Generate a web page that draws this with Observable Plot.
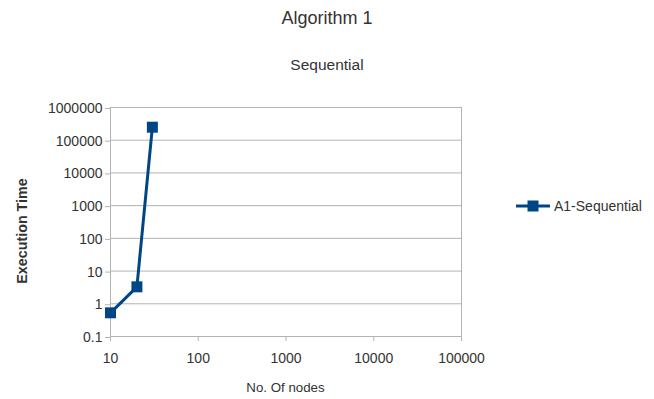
<!DOCTYPE html>
<html>
<head>
<meta charset="utf-8">
<script src="https://cdn.jsdelivr.net/npm/d3@7"></script>
<script src="https://cdn.jsdelivr.net/npm/@observablehq/plot@0.6"></script>
<style>
  html, body { margin: 0; padding: 0; background: #fff; }
  #wrap { position: relative; width: 654px; height: 399px; font-family: "Liberation Sans", Arial, sans-serif; color: #333; }
  .abs { position: absolute; white-space: nowrap; }
</style>
</head>
<body>
<div id="wrap"></div>
<script>
const title = "Algorithm 1";
const subtitle = "Sequential";
const xLabel = "No. Of nodes";
const yLabel = "Execution Time";
const seriesName = "A1-Sequential";
const nodes = [10, 20, 30];
const times = [0.53, 3.3, 250000];
const xTicks = [10, 100, 1000, 10000, 100000];
const yTicks = [0.1, 1, 10, 100, 1000, 10000, 100000, 1000000];
const color = "#004586";

const data = nodes.map((n, i) => ({n, t: times[i]}));

const chart = Plot.plot({
  width: 654,
  height: 399,
  marginTop: 107,
  marginBottom: 63,
  marginLeft: 110,
  marginRight: 193,
  style: {fontFamily: "Liberation Sans, Arial, sans-serif", fontSize: "14px", color: "#333", background: "#fff"},
  x: {type: "log", domain: [10, 100000]},
  y: {type: "log", domain: [0.1, 1000000]},
  marks: [
    Plot.gridY(yTicks, {stroke: "#b3b3b3", strokeOpacity: 1}),
    Plot.ruleX([xTicks[0], xTicks[xTicks.length - 1]], {stroke: "#b3b3b3"}),
    Plot.axisY({ticks: yTicks, tickSize: 5, tickPadding: 3, stroke: "#b3b3b3", tickFormat: d => String(d), label: null, fill: "#333", fontSize: 14, dy: 1}),
    Plot.axisX({ticks: xTicks, tickSize: 5, tickPadding: 12, stroke: "#b3b3b3", tickFormat: d => String(d), label: null, fill: "#333", fontSize: 14}),
    Plot.line(data, {x: "n", y: "t", stroke: color, strokeWidth: 3}),
    Plot.dot(data, {x: "n", y: "t", symbol: "square", r: 6.2, fill: color, stroke: null})
  ]
});

const wrap = document.getElementById("wrap");
wrap.appendChild(chart);
chart.style.position = "absolute";
chart.style.left = "0";
chart.style.top = "0";

function addText(txt, css) {
  const d = document.createElement("div");
  d.className = "abs";
  d.textContent = txt;
  Object.assign(d.style, css);
  wrap.appendChild(d);
  return d;
}
addText(title, {left: "0", width: "654px", textAlign: "center", top: "8px", fontSize: "18px"});
addText(subtitle, {left: "0", width: "654px", textAlign: "center", top: "56px", fontSize: "15.5px"});
addText(xLabel, {left: "110px", width: "351px", textAlign: "center", top: "380px", fontSize: "13.3px"});
addText(yLabel, {left: "-38px", width: "120px", textAlign: "center", top: "223px", fontSize: "14.3px", fontWeight: "bold", transform: "rotate(-90deg)"});

// legend
const leg = document.createElement("div");
leg.className = "abs";
leg.style.left = "514px";
leg.style.top = "196px";
leg.innerHTML = `<svg width="40" height="18" style="vertical-align:middle"><line x1="2" y1="9" x2="36" y2="9" stroke="${color}" stroke-width="3"/><rect x="13.5" y="3.5" width="11" height="11" fill="${color}"/></svg><span style="font-size:14px;vertical-align:middle;margin-left:0px">${seriesName}</span>`;
wrap.appendChild(leg);
</script>
</body>
</html>
